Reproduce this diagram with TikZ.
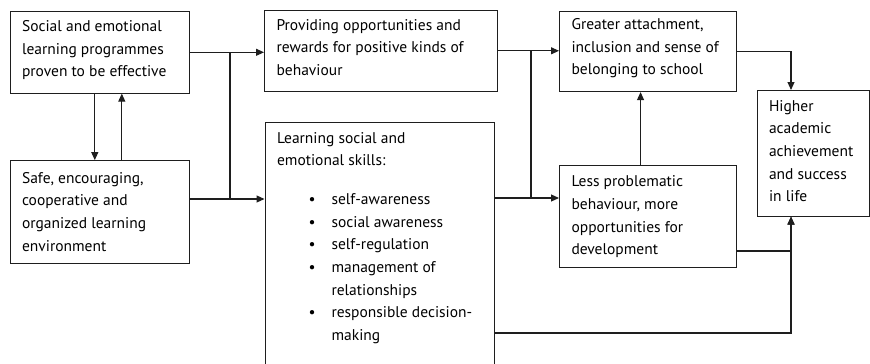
\documentclass[tikz,border=0pt]{standalone}
\usepackage{fontspec}
\setmainfont{PT Sans}
\usetikzlibrary{positioning,arrows.meta}
\definecolor{InkGrey}{RGB}{30,30,30}
\newcommand{\boxtext}[4][20pt]{\parbox[c][#3][t]{#2}{\raggedright\leftskip=12pt\rule{0pt}{#1}#4}}
\newcommand{\skillitem}[1]{\par\hangindent=54.5pt\hangafter=1\hspace*{31.5pt}\makebox[23pt][l]{\textbullet}#1}
\tikzset{
  flow/.style={-{Triangle[length=8pt,width=7pt]},line width=1.1pt,draw=InkGrey},
  plainline/.style={line width=1.1pt,draw=InkGrey},
  box/.style={draw=InkGrey,line width=1.1pt,inner sep=0pt,anchor=north west,
    font=\fontsize{15.5}{22.7}\selectfont}
}
\begin{document}
\begin{tikzpicture}[x=1pt,y=-1pt,node distance=66.5pt]
  \useasboundingbox (0,0) rectangle (870,364);
  \clip (0,0) rectangle (870,364);
  \node[box] (social) at (9.5,11) {\boxtext{179.5pt}{81.5pt}{%
    Social and emotional\\ learning programmes\\ proven to be effective}};
  \node[box,below=66.5pt of social] (safe) {\boxtext[22.5pt]{179.5pt}{103pt}{%
    Safe, encouraging,\\ cooperative and\\ organized learning\\ environment}};
  \node[box] (rewards) at (264,9.5) {\boxtext{233pt}{81.5pt}{%
    Providing opportunities and\\ rewards for positive kinds of\\ behaviour}};
  \node[box] (skills) at (264.5,122) {\boxtext[20.5pt]{229.5pt}{250pt}{%
    Learning social and\\ emotional skills:
    \par\vspace{16pt}
    \skillitem{self-awareness}
    \skillitem{social awareness}
    \skillitem{self-regulation}
    \skillitem{management of\newline relationships}
    \skillitem{responsible decision-\newline making}}};
  \node[box] (attach) at (559,11) {\boxtext[18pt]{177pt}{80pt}{%
    Greater attachment,\\ inclusion and sense of\\ belonging to school}};
  \node[box,below=73pt of attach] (lessprob) {\boxtext[21pt]{177pt}{102pt}{%
    Less problematic\\ behaviour, more\\ opportunities for\\ development}};
  \node[box] (achieve) at (756.5,90) {\boxtext[20.5pt]{112.5pt}{125.5pt}{%
    Higher\\ academic\\ achievement\\ and success\\ in life}};
  % junction points
  \coordinate (jleft) at (230,199);
  \coordinate (jright) at (531,198);
  \coordinate (jend) at (791,0);
  \coordinate (jmid) at (0,251);
  \coordinate (jlow) at (0,333);
  % left column
  \draw[flow] ([xshift=-5pt]social.south) -- ([xshift=-5pt]safe.north);
  \draw[flow] ([xshift=22pt]safe.north) -- ([xshift=22pt]social.south);
  \draw[flow] (social.east) -- (social.east -| rewards.west);
  \draw[plainline] (jleft |- social.east) -- (jleft);
  \draw[flow] (safe.east |- jleft) -- (skills.west |- jleft);
  % middle column
  \draw[flow] (rewards.east) -- (rewards.east -| attach.west);
  \draw[plainline] (jright |- rewards.east) -- (jright);
  \draw[flow] (skills.east |- jright) -- (lessprob.west |- jright);
  \draw[flow] ([xshift=-7.5pt]lessprob.north) -- ([xshift=-7.5pt]attach.south);
  % into the outcome
  \draw[flow] (attach.east) -| (jend |- achieve.north);
  \draw[flow] (lessprob.east |- jmid) -| (jend |- achieve.south);
  \draw[flow] (skills.east |- jlow) -| (jend |- achieve.south);
\end{tikzpicture}
\end{document}
